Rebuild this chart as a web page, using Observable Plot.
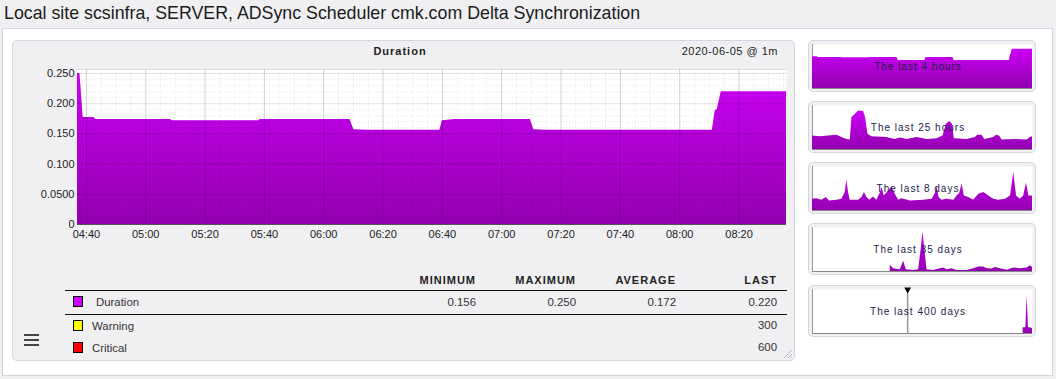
<!DOCTYPE html>
<html><head><meta charset="utf-8">
<script src="https://cdn.jsdelivr.net/npm/d3@7"></script>
<script src="https://cdn.jsdelivr.net/npm/@observablehq/plot@0.6"></script>
<style>
html,body{margin:0;padding:0}
body{background:#f0f0f2;font-family:"Liberation Sans",Arial,sans-serif;width:1056px;height:379px;overflow:hidden;position:relative}
.abs{position:absolute}
#title{left:4px;top:3px;font-size:17.8px;color:#1b1b1b;white-space:nowrap}
#outer{left:2px;top:28px;width:1049px;height:346px;background:#fff;border:1px solid #d3d4de}
.box{position:absolute;background:#f0f0f2;border:1px solid #d3d5df;border-radius:5px;box-sizing:border-box}
.hd{font-size:11px;font-weight:bold;letter-spacing:1px;color:#222;white-space:nowrap;line-height:12px}
.tx{font-size:11.4px;color:#333;white-space:nowrap;line-height:12px}
.r{text-align:right;width:100px}
.sw{position:absolute;width:8px;height:9px;border:1px solid #000}
.hl{position:absolute;height:1.5px;background:#111}
.tl{position:absolute;width:220px;text-align:center;font-size:10px;letter-spacing:1px;color:#20244a;line-height:12px;white-space:nowrap}
.bar{position:absolute;left:24px;width:15px;height:2px;background:#444}
svg{position:absolute;overflow:visible}
</style>
</head><body>
<div id="title" class="abs">Local site scsinfra, SERVER, ADSync Scheduler cmk.com Delta Synchronization</div>
<div id="outer" class="abs"></div>
<div class="box" style="left:12px;top:40px;width:783px;height:321px"></div>
<div id="root"></div>
<script>
// ---------- data ----------
const durTimes = ["04:37:00","04:37:50","04:38:55","04:42:30","04:43:10","05:08:20","05:09:00","05:38:00","05:38:40","06:08:50","06:10:10","06:14:40","06:39:10","06:40:00","06:44:10","07:09:40","07:10:50","07:15:20","07:39:30","08:11:00","08:12:00","08:12:40","08:14:00","08:36:00"];
const durValues = [0.250,0.250,0.177,0.177,0.174,0.174,0.172,0.172,0.174,0.174,0.157,0.156,0.156,0.172,0.174,0.174,0.157,0.156,0.156,0.156,0.189,0.190,0.220,0.220];
const thumb4hValues = [0.176,0.176,0.177,0.177,0.174,0.174,0.172,0.172,0.174,0.174,0.157,0.156,0.156,0.172,0.174,0.174,0.157,0.156,0.156,0.156,0.189,0.190,0.220,0.220];

const yTicks = [0, 0.05, 0.10, 0.15, 0.20, 0.25];
const yTickLabels = ["0", "0.0500", "0.100", "0.150", "0.200", "0.250"];

const legendHeaders = ["MINIMUM", "MAXIMUM", "AVERAGE", "LAST"];
const durationStats = ["0.156", "0.250", "0.172", "0.220"];
const warningLast = "300";
const criticalLast = "600";

const thumb25hHours = [0,0.87,1.82,2.77,3.34,3.91,4.29,4.48,4.74,5.24,5.80,6.03,6.30,6.75,8.46,9.41,9.98,10.74,11.87,13.01,14.15,14.83,15.21,15.59,15.90,16.12,17.57,18.51,18.78,19.27,19.58,20.60,20.90,21.25,21.55,22.88,24.39,24.77,25];
const thumb25hValues = [0.185,0.175,0.185,0.194,0.162,0.138,0.129,0.438,0.462,0.526,0.517,0.438,0.208,0.175,0.162,0.138,0.157,0.138,0.162,0.138,0.148,0.185,0.346,0.383,0.346,0.148,0.138,0.162,0.194,0.194,0.138,0.162,0.194,0.185,0.129,0.138,0.129,0.162,0.175];

const thumb8dDays = [0,0.16,0.34,0.50,0.62,0.89,1.07,1.19,1.25,1.31,1.37,1.68,1.80,1.89,1.98,2.08,2.22,2.34,2.46,2.53,2.61,2.77,2.89,3.01,3.13,3.25,3.56,4.04,4.35,4.47,4.53,4.60,4.71,4.89,5.14,5.26,5.35,5.44,5.52,5.68,5.86,6.05,6.23,6.41,6.59,6.77,7.02,7.20,7.32,7.42,7.56,7.68,7.78,7.87,8];
const thumb8dValues = [0.178,0.188,0.162,0.205,0.151,0.162,0.178,0.285,0.485,0.285,0.162,0.162,0.205,0.285,0.205,0.162,0.215,0.162,0.269,0.366,0.232,0.312,0.377,0.258,0.162,0.188,0.151,0.162,0.178,0.269,0.377,0.205,0.162,0.178,0.162,0.232,0.269,0.420,0.232,0.205,0.162,0.258,0.285,0.232,0.178,0.162,0.178,0.232,0.608,0.232,0.178,0.232,0.436,0.232,0.232];

const thumb35dDays = [12.37,12.91,13.97,14.50,14.92,16.09,16.89,17.26,17.58,17.90,18.22,19.28,20.34,20.87,21.40,22.20,23.00,24.59,25.65,26.45,27.25,27.78,28.57,29.10,29.90,30.96,32.03,33.09,34.15,34.68,35];
const thumb35dValues = [0.56,0.25,0.156,0.94,0.156,0.094,0.156,1.875,3.59,1.875,0.156,0.094,0.25,0.31,0.156,0.25,0.094,0.094,0.25,0.41,0.41,0.25,0.22,0.375,0.25,0.125,0.31,0.25,0.31,0.53,0.375];

const thumb400dDays = [383.0,387.9,390.3,392.7,396.4,400];
const thumb400dValues = [0.55,0.55,3.62,0.55,0.55,0.45];
const thumb400dMarker = [173];

const thumbLabels = ["The last 4 hours", "The last 25 hours", "The last 8 days", "The last 35 days", "The last 400 days"];

// ---------- helpers ----------
const root = document.getElementById("root");
const parse = s => new Date(`2020-06-05T${s}Z`);
function place(el, left, top) { el.style.left = left + "px"; el.style.top = top + "px"; root.appendChild(el); }
function div(cls, text, style) { const d = document.createElement("div"); d.className = cls; if (text != null) d.textContent = text; d.style.cssText = style || ""; d.style.position = "absolute"; root.appendChild(d); return d; }
function gradDefs(id) {
  return () => {
    const defs = d3.create("svg:defs");
    const g = defs.append("linearGradient").attr("id", id).attr("x1", 0).attr("x2", 0).attr("y1", 0).attr("y2", 1);
    g.append("stop").attr("offset", "0%").attr("stop-color", "#cc00f6");
    g.append("stop").attr("offset", "100%").attr("stop-color", "#9300b0");
    return defs.node();
  };
}

// ---------- main chart ----------
const mainData = durTimes.map((t, i) => ({t: parse(t), v: durValues[i]}));
const x0 = parse("04:37:00"), x1 = parse("08:36:00");
const yTop = 0.2567;
const majorX = d3.utcMinute.every(20).range(parse("04:40:00"), parse("08:21:00"));
const minorX = d3.utcMinute.every(5).range(x0, x1).filter(d => d.getUTCMinutes() % 20 !== 0);
const minorY = d3.range(1, 26).map(i => i / 100).filter(v => Math.round(v * 100) % 5 !== 0);

const main = Plot.plot({
  width: 800, height: 190,
  marginLeft: 77, marginRight: 14, marginTop: 13, marginBottom: 22,
  style: {background: "transparent", fontFamily: "'Liberation Sans', Arial, sans-serif", fontSize: "11px", color: "#222"},
  x: {type: "utc", domain: [x0, x1], ticks: majorX, tickFormat: d3.utcFormat("%H:%M"), tickSize: 0, tickPadding: 6, label: null},
  y: {domain: [0, yTop], ticks: yTicks, tickFormat: d => yTickLabels[yTicks.indexOf(d)], tickSize: 0, tickPadding: 3, label: null},
  marks: [
    gradDefs("g-main"),
    Plot.frame({fill: "white", stroke: null}),
    Plot.areaY(mainData, {x: "t", y: "v", fill: "url(#g-main)", curve: "linear"}),
    Plot.ruleX(minorX, {stroke: "#000", strokeOpacity: 0.1, strokeDasharray: "1,2"}),
    Plot.ruleY(minorY, {stroke: "#000", strokeOpacity: 0.1, strokeDasharray: "1,2"}),
    Plot.ruleX(majorX, {stroke: "#000", strokeOpacity: 0.17}),
    Plot.ruleY(yTicks, {stroke: "#000", strokeOpacity: 0.12}),
    Plot.ruleY([yTop], {stroke: "#000", strokeOpacity: 0.1}),
    Plot.ruleY([0], {stroke: "#555"})
  ]
});
place(main, 0, 56);

div("hd", "Duration", "left:350px;top:45px;width:100px;text-align:center");
div("tx", "2020-06-05 @ 1m", "left:578px;top:45px;width:200px;text-align:right;letter-spacing:0.5px;color:#222;font-size:11px");

// ---------- legend table ----------
const colRight = [476, 576, 676, 777];
legendHeaders.forEach((h, i) => div("hd r", h, `left:${colRight[i] - 100}px;top:274px`));
div("hl", null, "left:65px;top:289.5px;width:722px");
div("hl", null, "left:65px;top:313.5px;width:722px");
div("sw", null, "left:73px;top:296px;background:#cc00ff");
div("tx", "Duration", "left:96px;top:296px");
durationStats.forEach((v, i) => div("tx r", v, `left:${colRight[i] - 100}px;top:296px`));
div("sw", null, "left:73px;top:320px;background:#ffff00");
div("tx", "Warning", "left:92px;top:320px");
div("tx r", warningLast, `left:${colRight[3] - 100}px;top:319px`);
div("sw", null, "left:73px;top:342px;background:#ff0000");
div("tx", "Critical", "left:92px;top:342px");
div("tx r", criticalLast, `left:${colRight[3] - 100}px;top:341px`);
[334, 339, 344].forEach(y => div("bar", null, `top:${y}px`));
const grip = document.createElementNS("http://www.w3.org/2000/svg", "svg");
grip.setAttribute("width", 12); grip.setAttribute("height", 12);
grip.innerHTML = '<path d="M11 3 L3 11 M11 7 L7 11 M11 10 L10 11" stroke="#b0b0b8" stroke-width="1"/>';
place(grip, 781, 347);

// ---------- thumbnails ----------
const boxTops = [40, 101, 162, 223, 285];
function thumb(i, data, xdomain, ymax, extra) {
  const top = boxTops[i];
  div("box", null, `left:808px;top:${top}px;width:228px;height:52px`);
  const p = Plot.plot({
    width: 220, height: 44, margin: 0,
    style: {background: "transparent"},
    x: {domain: xdomain, axis: null},
    y: {domain: [0, ymax], axis: null},
    marks: [
      gradDefs("g-t" + i),
      Plot.frame({fill: "white", stroke: null}),
      Plot.ruleX([xdomain[0]], {stroke: "#999"}),
      Plot.areaY(data, {x: "x", y: "v", fill: `url(#g-t${i})`, curve: "linear"}),
      Plot.ruleY([0], {stroke: "#888"}),
      ...(extra || [])
    ]
  });
  place(p, 812, top + 4);
  div("tl", thumbLabels[i], `left:808px;top:${top + 21}px`);
}
thumb(0, durTimes.map((t, i) => ({x: parse(t), v: thumb4hValues[i]})), [x0, x1], 0.246);
thumb(1, thumb25hHours.map((h, i) => ({x: h, v: thumb25hValues[i]})), [0, 25], 0.6);
thumb(2, thumb8dDays.map((d, i) => ({x: d, v: thumb8dValues[i]})), [0, 8], 0.7);
thumb(3, thumb35dDays.map((d, i) => ({x: d, v: thumb35dValues[i]})), [0, 35], 4.0);
thumb(4, thumb400dDays.map((d, i) => ({x: d, v: thumb400dValues[i]})), [0, 400], 4.2, [
  Plot.ruleX(thumb400dMarker, {stroke: "#999", strokeWidth: 1.5}),
  Plot.dot(thumb400dMarker, {x: d => d, frameAnchor: "top", symbol: "triangle", rotate: 180, r: 2.5, fill: "#000", stroke: null})
]);
</script>
</body></html>
